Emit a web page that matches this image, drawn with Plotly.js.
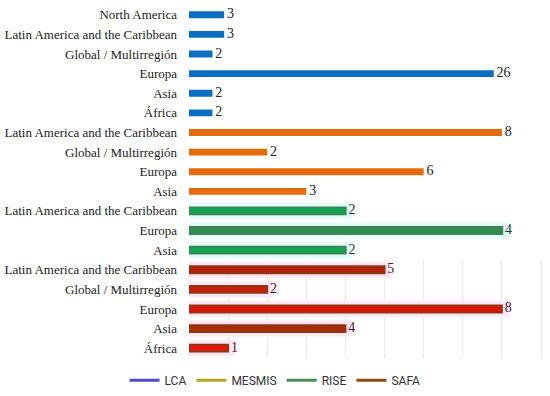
<!DOCTYPE html>
<html>
<head>
<meta charset="utf-8">
<script src="https://cdn.plot.ly/plotly-3.0.1.min.js"></script>
<style>html,body{margin:0;padding:0;background:#fff;}#chart{width:550px;height:396px;}</style>
</head>
<body>
<div id="chart"></div>
<script>
const lcaCats = ['North America','Latin America and the Caribbean','Global / Multirregión','Europa','Asia','África'];
const lcaVals = [3,3,2,26,2,2];
const mesmisCats = ['Latin America and the Caribbean','Global / Multirregión','Europa','Asia'];
const mesmisVals = [8,2,6,3];
const riseCats = ['Latin America and the Caribbean','Europa','Asia'];
const riseVals = [2,4,2];
const safaCats = ['Latin America and the Caribbean','Global / Multirregión','Europa','Asia','África'];
const safaVals = [5,2,8,4,1];
const seriesNames = ['LCA','MESMIS','RISE','SAFA'];

const serif = 'Liberation Serif';
const barW = 0.35;

function bar(cats, vals, ax, color, lineColor, lineW) {
  return {
    type: 'bar', orientation: 'h', y: cats, x: vals, xaxis: 'x' + ax, yaxis: 'y' + ax,
    width: barW, marker: {color: color, line: {color: lineColor, width: lineW}},
    cliponaxis: false, showlegend: false, hoverinfo: 'skip'
  };
}
function labels(cats, vals, ax, textColor) {
  return {
    type: 'scatter', mode: 'text', y: cats, x: vals, xaxis: 'x' + ax, yaxis: 'y' + ax,
    text: vals.map(v => '\u2009' + v), textposition: 'middle right', cliponaxis: false,
    textfont: {family: serif, size: 14, color: textColor},
    showlegend: false, hoverinfo: 'skip'
  };
}
function halo(cats, vals, ax, color) {
  return {
    type: 'bar', orientation: 'h', y: cats, x: vals, xaxis: 'x' + ax, yaxis: 'y' + ax,
    width: 0.1, marker: {color: color, line: {color: color, width: 14}},
    cliponaxis: false, showlegend: false, hoverinfo: 'skip'
  };
}

const legendColors = ['#4b4bd2', '#b3a31f', '#4c8c52', '#8e4a12'];
const legendTraces = seriesNames.map((n, i) => ({
  type: 'scatter', mode: 'lines', name: n, x: [null], y: [null], xaxis: 'x', yaxis: 'y',
  line: {color: legendColors[i], width: 3}, hoverinfo: 'skip'
}));

const data = [
  bar(lcaCats, lcaVals, '', '#0a6fc2', '#0a6fc2', 0),
  bar(mesmisCats, mesmisVals, '2', '#e56b0d', '#e56b0d', 0),
  halo(riseCats, riseVals, '3', '#e2fcfb'),
  bar(riseCats, riseVals, '3', ['#10a552', '#2f8c4f', '#10a552'], '#3d8552', 2),
  halo(safaCats, safaVals, '4', '#ffe6f4'),
  bar(safaCats, safaVals, '4', ['#b82008', '#c81e08', '#e01208', '#a82a08', '#ee1212'], '#8a3a10', 2),
  labels(lcaCats, lcaVals, '', '#222'),
  labels(mesmisCats, mesmisVals, '2', '#222'),
  labels(riseCats, riseVals, '3', '#1c3a3a'),
  labels(safaCats, safaVals, '4', '#4a1238'),
  ...legendTraces
];

function yax(cats, domain) {
  return {
    domain: domain, type: 'category', categoryorder: 'array', categoryarray: cats,
    autorange: 'reversed', showgrid: false, zeroline: false, showline: false, ticks: '',
    ticklabelstandoff: 11,
    tickfont: {family: serif, size: 13, color: '#222'}
  };
}
function xax(range, anchor, grid) {
  return {
    range: range, anchor: anchor, domain: [0, 1], showticklabels: false, ticks: '',
    showgrid: grid, gridcolor: '#e8e8e8', gridwidth: 1, dtick: 1, zeroline: false, showline: false,
    fixedrange: true
  };
}

const layout = {
  width: 550, height: 396,
  font: {family: serif, size: 14, color: '#222'},
  margin: {l: 189, r: 0, t: 5, b: 38},
  paper_bgcolor: '#fff', plot_bgcolor: 'rgba(0,0,0,0)',
  barmode: 'overlay',
  showlegend: true,
  legend: {
    orientation: 'h', xref: 'container', yref: 'container', x: 0.5, xanchor: 'center',
    y: 0.04, yanchor: 'middle', font: {family: 'Roboto', size: 12, color: '#333'},
    itemwidth: 30, bgcolor: 'rgba(0,0,0,0)'
  },
  xaxis: xax([0, 30.8], 'y', false),
  xaxis2: xax([0, 9.23], 'y2', false),
  xaxis3: xax([0, 4.61], 'y3', false),
  xaxis4: xax([0, 9.23], 'y4', true),
  yaxis: yax(lcaCats, [12/18, 1]),
  yaxis2: yax(mesmisCats, [8/18, 12/18]),
  yaxis3: yax(riseCats, [5/18, 8/18]),
  yaxis4: yax(safaCats, [0, 5/18])
};

Plotly.newPlot('chart', data, layout, {displayModeBar: false, staticPlot: true});
</script>
</body>
</html>
